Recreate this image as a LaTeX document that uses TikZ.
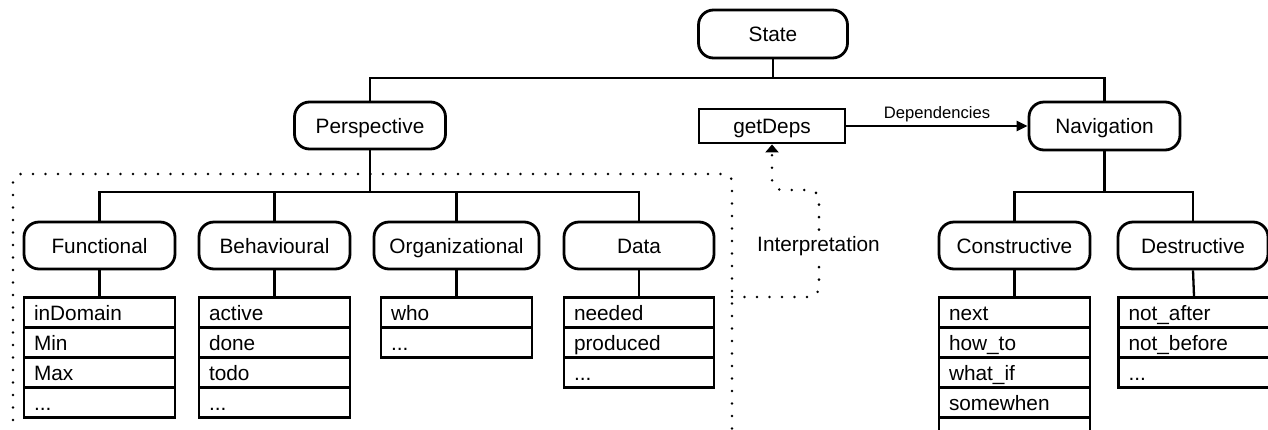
\documentclass[tikz,border=0pt]{standalone}
\usepackage{fontspec}
\setmainfont{Liberation Sans}
\usetikzlibrary{arrows.meta}
\begin{document}
\begin{tikzpicture}[x=1pt,y=-1pt,
  every node/.style={font=\fontsize{20.8}{25}\selectfont, text height=15pt, text depth=0pt, inner sep=0pt},
  rbox/.style={draw, line width=2.8pt, rounded corners=15pt, minimum height=47pt, minimum width=151pt},
  sbox/.style={draw, line width=2.8pt, minimum height=34pt, minimum width=146pt},
  cell/.style={draw, line width=2.6pt, minimum height=30pt, text width=131pt, inner xsep=10pt, align=left},
  conn/.style={line width=2.3pt},
  dotline/.style={line width=2.8pt, line cap=round, dash pattern=on 0pt off 12.5pt},
  lbl/.style={font=\fontsize{16.6}{20}\selectfont, text height=12pt, text depth=3.5pt},
]
\fill[white] (0,0) rectangle (1268,429);
\useasboundingbox (0,0) rectangle (1268,429);
\clip (0,0) rectangle (1268,429);

% top level
\node[rbox, minimum width=149pt, minimum height=48pt] (state) at (773,34) {State};
\node[rbox] (persp) at (370,125.5) {Perspective};
\node[sbox] (getdeps) at (772,126) {getDeps};
\node[rbox, minimum height=48pt] (nav) at (1104.5,126) {Navigation};

\coordinate (sbus) at (773,78);
\draw[conn] (state.south) -- (sbus);
\draw[conn] (persp.north) |- (sbus) -| (nav.north);

\draw[conn, -{Triangle[length=11pt,width=10pt]}] (getdeps.east) -- node[lbl, above=3pt] {Dependencies} (nav.west);

% perspective subtree
\node[rbox] (fun) at (99.5,245.5) {Functional};
\node[rbox] (beh) at (274.5,245.5) {Behavioural};
\node[rbox, minimum width=165pt] (org) at (456.5,245.5) {Organizational};
\node[rbox, minimum width=150pt] (data) at (639,245.5) {Data};

\coordinate (pbus) at (370,192);
\draw[conn] (persp.south) -- (pbus);
\draw[conn] (fun.north) |- (pbus) -| (data.north);
\draw[conn] (beh.north) -- (beh.north |- pbus);
\draw[conn] (org.north) -- (org.north |- pbus);

% navigation subtree
\node[rbox] (cons) at (1014.5,245.5) {Constructive};
\node[rbox, minimum width=150pt] (dest) at (1193,245.5) {Destructive};
\coordinate (nbus) at (1104.5,192);
\draw[conn] (nav.south) -- (nbus);
\draw[conn] (cons.north) |- (nbus) -| (dest.north);

% tables
\node[cell] (f1) at (99.5,312.5) {inDomain};
\node[cell] (f2) at (99.5,342.5) {Min};
\node[cell] (f3) at (99.5,372.5) {Max};
\node[cell] (f4) at (99.5,402.5) {...};

\node[cell] (b1) at (274.5,312.5) {active};
\node[cell] (b2) at (274.5,342.5) {done};
\node[cell] (b3) at (274.5,372.5) {todo};
\node[cell] (b4) at (274.5,402.5) {...};

\node[cell] (o1) at (456.5,312.5) {who};
\node[cell] (o2) at (456.5,342.5) {...};

\node[cell, text width=130pt] (d1) at (639,312.5) {needed};
\node[cell, text width=130pt] (d2) at (639,342.5) {produced};
\node[cell, text width=130pt] (d3) at (639,372.5) {...};

\node[cell] (c1) at (1014.5,312.5) {next};
\node[cell] (c2) at (1014.5,342.5) {how\_to};
\node[cell] (c3) at (1014.5,372.5) {what\_if};
\node[cell] (c4) at (1014.5,402.5) {somewhen};
\node[cell] (c5) at (1014.5,432.5) {};

\node[cell] (n1) at (1194,312.5) {not\_after};
\node[cell] (n2) at (1194,342.5) {not\_before};
\node[cell] (n3) at (1194,372.5) {...};

\draw[conn] (fun.south) -- (f1.north);
\draw[conn] (beh.south) -- (b1.north);
\draw[conn] (org.south) -- (o1.north);
\draw[conn] (data.south) -- (d1.north);
\draw[conn] (cons.south) -- (c1.north);
\draw[conn] (dest.south) -- (n1.north);

% dotted perspective frame
\draw[dotline, rounded corners=8pt] (13,445) -- (13,174) -- (732,174) -- (732,445);
\coordinate (dbR) at (732,297);

% interpretation
\draw[dotline, rounded corners=10pt, -{Triangle[length=8pt,width=13pt]}]
  (dbR) -- (819,297) -- (819,190) -- (772,190) -- (getdeps.south);
\node[fill=white, inner xsep=2pt, inner ysep=5pt] (interp) at (818.5,244) {Interpretation};
\end{tikzpicture}
\end{document}
